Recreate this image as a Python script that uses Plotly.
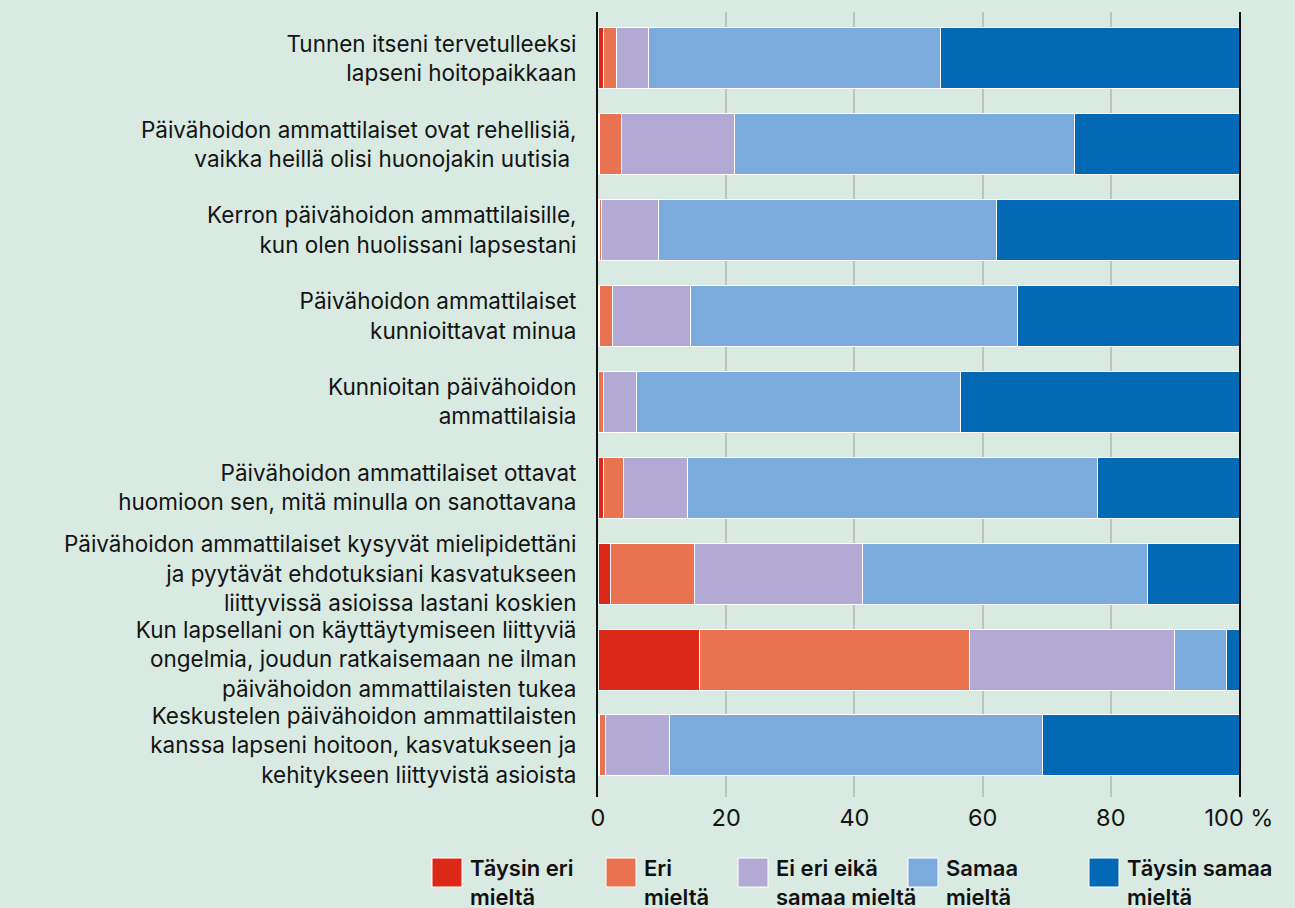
import plotly.graph_objects as go

# väittämät ylhäältä alas
statements = [
    "Tunnen itseni tervetulleeksi<br>lapseni hoitopaikkaan",
    "Päivähoidon ammattilaiset ovat rehellisiä,<br>vaikka heillä olisi huonojakin uutisia ",
    "Kerron päivähoidon ammattilaisille,<br>kun olen huolissani lapsestani",
    "Päivähoidon ammattilaiset<br>kunnioittavat minua",
    "Kunnioitan päivähoidon<br>ammattilaisia",
    "Päivähoidon ammattilaiset ottavat<br>huomioon sen, mitä minulla on sanottavana",
    "Päivähoidon ammattilaiset kysyvät mielipidettäni<br>ja pyytävät ehdotuksiani kasvatukseen<br>liittyvissä asioissa lastani koskien",
    "Kun lapsellani on käyttäytymiseen liittyviä<br>ongelmia, joudun ratkaisemaan ne ilman<br>päivähoidon ammattilaisten tukea",
    "Keskustelen päivähoidon ammattilaisten<br>kanssa lapseni hoitoon, kasvatukseen ja<br>kehitykseen liittyvistä asioista",
]

taysin_eri = [0.9, 0.2, 0.2, 0.2, 0.1, 0.9, 1.9, 15.9, 0.2]
eri = [2.0, 3.5, 0.3, 2.0, 0.8, 3.0, 13.1, 42.1, 1.0]
ei_eri_eika_samaa = [5.0, 17.6, 9.0, 12.3, 5.1, 10.0, 26.3, 32.0, 10.0]
samaa = [45.5, 53.0, 52.7, 50.9, 50.6, 64.1, 44.5, 8.0, 58.1]
taysin_samaa = [46.6, 25.7, 37.8, 34.6, 43.4, 22.0, 14.2, 2.0, 30.7]

series_names = ["Täysin eri<br>mieltä", "Eri<br>mieltä", "Ei eri eikä<br>samaa mieltä",
                "Samaa<br>mieltä", "Täysin samaa<br>mieltä"]
series_values = [taysin_eri, eri, ei_eri_eika_samaa, samaa, taysin_samaa]
colors = ["#dc2817", "#e97250", "#b2aad4", "#7aabdc", "#0369b4"]

x_ticks = [0, 20, 40, 60, 80, 100]
x_ticktext = ["0", "20", "40", "60", "80", "100 %"]

W, H = 1295, 908
L, R, T, B = 598, 56, 12, 111
FONT = "Inter"
BG = "#d8eae2"

fig = go.Figure()
for name, vals, col in zip(series_names, series_values, colors):
    fig.add_trace(go.Bar(
        y=statements, x=vals, orientation="h", name=name,
        marker=dict(color=col, line=dict(color="white", width=1)),
        showlegend=False, hoverinfo="skip",
    ))

# oma selite isoilla neliöillä (pikseleinä)
pw, ph = W - L - R, H - T - B
def px_x(p):
    return (p - L) / pw
def px_y(p):
    return (H - B - p) / ph

legend_left = [432, 606, 738, 908, 1089]
for name, col, lx in zip(series_names, colors, legend_left):
    fig.add_shape(type="rect", xref="paper", yref="paper",
                  x0=px_x(lx), x1=px_x(lx + 30), y0=px_y(887), y1=px_y(858),
                  fillcolor=col, line=dict(color="white", width=1))
    fig.add_annotation(xref="paper", yref="paper", x=px_x(lx + 36), y=px_y(853),
                       xanchor="left", yanchor="top", align="left", showarrow=False,
                       text=name, font=dict(family=FONT, size=22, weight=600, color="#111"),
                       )

fig.update_layout(
    width=W, height=H,
    margin=dict(l=L, r=R, t=T, b=B, pad=0),
    barmode="stack", bargap=0.29,
    paper_bgcolor=BG, plot_bgcolor=BG,
    font=dict(family=FONT, size=22.5, color="#141414"),
    xaxis=dict(range=[0, 100], tickvals=x_ticks, ticktext=x_ticktext,
               showgrid=True, gridcolor="#bfc3bf", gridwidth=1.5,
               zeroline=False, showline=False, ticks="", ticklabelstandoff=4,
               tickfont=dict(size=23.5)),
    yaxis=dict(categoryorder="array", categoryarray=statements,
               range=[8.6, -0.54], showgrid=False, zeroline=False,
               showline=True, linecolor="#111", linewidth=2, mirror=True,
               ticks="", ticklabelstandoff=15),
)

fig.write_html("out.html", config={"displayModeBar": False},
               post_script="document.body.style.margin='0';")
